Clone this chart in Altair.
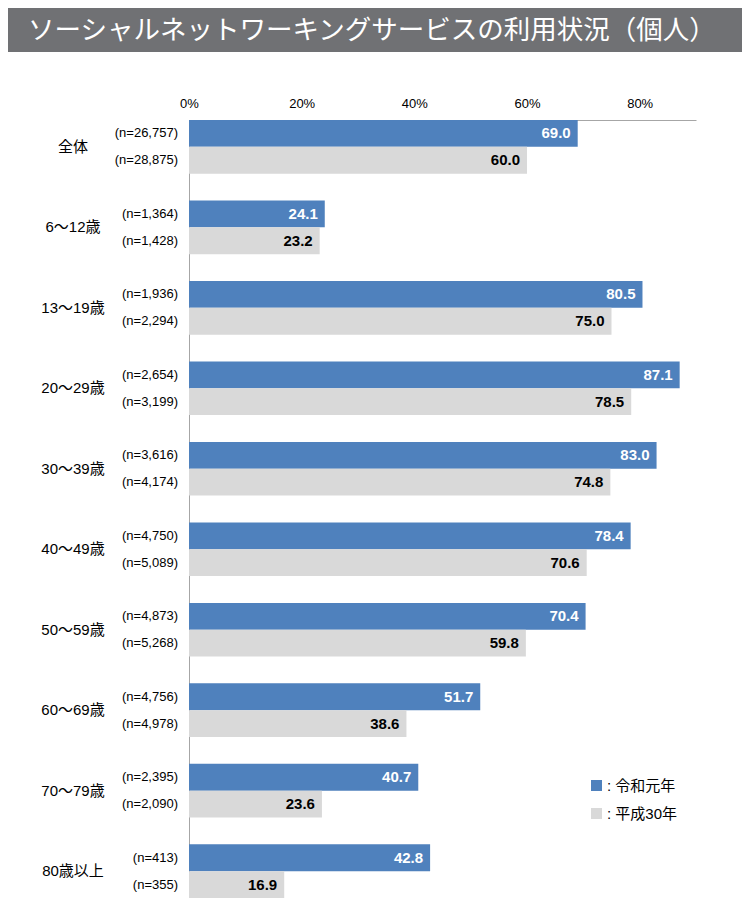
import altair as alt
import pandas as pd

title = "ソーシャルネットワーキングサービスの利用状況（個人）"
groups = ["全体", "6〜12歳", "13〜19歳", "20〜29歳", "30〜39歳",
          "40〜49歳", "50〜59歳", "60〜69歳", "70〜79歳", "80歳以上"]
series = ["令和元年", "平成30年"]
reiwa = [69.0, 24.1, 80.5, 87.1, 83.0, 78.4, 70.4, 51.7, 40.7, 42.8]
heisei = [60.0, 23.2, 75.0, 78.5, 74.8, 70.6, 59.8, 38.6, 23.6, 16.9]
n_reiwa = ["26,757", "1,364", "1,936", "2,654", "3,616",
           "4,750", "4,873", "4,756", "2,395", "413"]
n_heisei = ["28,875", "1,428", "2,294", "3,199", "4,174",
            "5,089", "5,268", "4,978", "2,090", "355"]
tick_values = [0, 20, 40, 60, 80]

rows = []
for g, v, n in zip(groups, reiwa, n_reiwa):
    rows.append({"group": g, "series": series[0], "value": v, "n": "(n=" + n + ")"})
for g, v, n in zip(groups, heisei, n_heisei):
    rows.append({"group": g, "series": series[1], "value": v, "n": "(n=" + n + ")"})
df = pd.DataFrame(rows)
gdf = pd.DataFrame({"group": groups})

FONT = "Liberation Sans, Noto Sans CJK JP"

y_enc = alt.Y("group:N", sort=groups,
              scale=alt.Scale(paddingInner=0.333, paddingOuter=0),
              axis=alt.Axis(labels=False, ticks=False, title=None, domain=True,
                            domainColor="#a6a6a6", domainWidth=1))
yoff_enc = alt.YOffset("series:N", sort=series,
                       scale=alt.Scale(paddingInner=0, paddingOuter=0))
x_enc = alt.X("value:Q", scale=alt.Scale(domain=[0, 90], nice=False),
              axis=alt.Axis(orient="top", values=tick_values,
                            labelExpr="datum.value + '%'", ticks=False, grid=False,
                            title=None, domainColor="#a6a6a6", labelFontSize=13,
                            labelPadding=10, labelFont=FONT, labelColor="#000",
                            labelFlush=False))

base = alt.Chart(df)

bars = base.mark_bar().encode(
    x=x_enc, y=y_enc, yOffset=yoff_enc,
    color=alt.Color("series:N", sort=series,
                    scale=alt.Scale(domain=series, range=["#4f81bd", "#d9d9d9"]),
                    legend=alt.Legend(title=None, orient="none", legendX=400, legendY=658,
                                      symbolType="square", symbolSize=121,
                                      symbolStrokeWidth=0, labelFontSize=15,
                                      labelFont=FONT, labelExpr="': ' + datum.label",
                                      labelOffset=3, rowPadding=12, labelColor="#000")),
)

values = base.mark_text(align="right", baseline="middle", dx=-7, fontSize=15,
                        fontWeight="bold", font=FONT).encode(
    x="value:Q", y=alt.Y("group:N", sort=groups), yOffset=yoff_enc,
    text=alt.Text("value:Q", format=".1f"),
    color=alt.condition(alt.datum.series == series[0], alt.value("white"), alt.value("black")),
)

nlabels = base.mark_text(align="right", baseline="middle", fontSize=13, font=FONT,
                         color="#000").encode(
    x=alt.value(-11), y=alt.Y("group:N", sort=groups), yOffset=yoff_enc, text="n:N",
)

cats = alt.Chart(gdf).mark_text(align="center", baseline="middle", fontSize=15,
                                font=FONT, color="#000").encode(
    x=alt.value(-116), y=alt.Y("group:N", sort=groups), text="group:N",
)

banner = alt.Chart(pd.DataFrame({"t": [title]})).mark_rect(color="#707174").encode(
    x=alt.value(-181), x2=alt.value(556), y=alt.value(-112), y2=alt.value(-68),
)
banner_text = alt.Chart(pd.DataFrame({"t": [title]})).mark_text(
    align="left", baseline="middle", fontSize=26.5, color="white",
    font="Noto Sans CJK JP").encode(
    x=alt.value(-161), y=alt.value(-89), text="t:N",
)

chart = alt.layer(banner, banner_text, bars, values, nlabels, cats).properties(
    width=507, height=778,
    autosize=alt.AutoSizeParams(type="none"),
    padding={"left": 181, "top": 112, "right": 46, "bottom": 0},
).configure_view(stroke=None).resolve_scale(color="independent")

chart.save("out.html", embed_options={"renderer": "svg", "actions": False})
